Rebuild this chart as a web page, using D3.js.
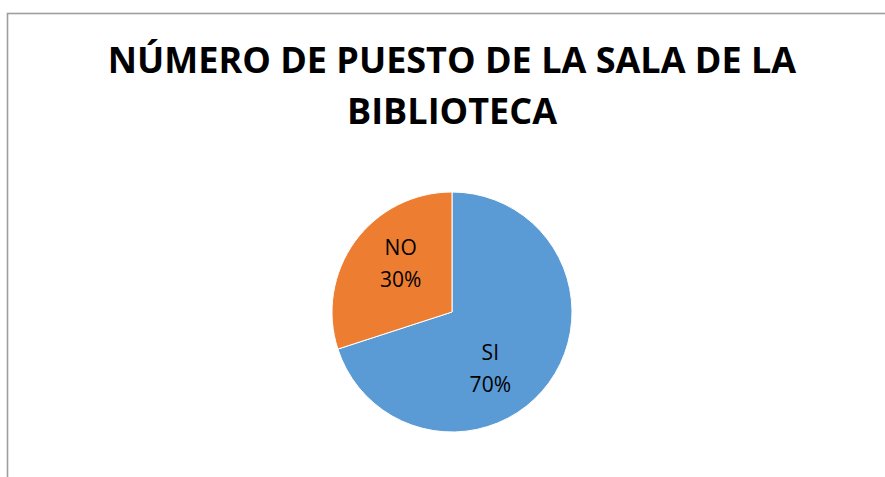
<!DOCTYPE html>
<html>
<head>
<meta charset="utf-8">
<script src="https://cdn.jsdelivr.net/npm/d3@7"></script>
<style>
  html, body { margin: 0; padding: 0; background: #fff; }
  svg { display: block; }
</style>
</head>
<body>
<div id="chart"></div>
<script>
/// Data
var categories = ["SI", "NO"];
var values = [70, 30];
var sliceColors = ["#5B9BD5", "#ED7D31"];
var titleLines = ["NÚMERO DE PUESTO DE LA SALA DE LA", "BIBLIOTECA"];

// Geometry
var width = 885, height = 477;
var cx = 452, cy = 312, radius = 120;
// Excel's "best fit" nudges for the labels
var labelNudge = [[-18, 16], [5, -7]];

var svg = d3.select("#chart").append("svg")
  .attr("width", width)
  .attr("height", height);

svg.append("rect")
  .attr("width", width).attr("height", height)
  .attr("fill", "#fff");

// chart area border (runs off right/bottom edge)
svg.append("rect")
  .attr("x", 7.5).attr("y", 13.5)
  .attr("width", width + 20).attr("height", height + 20)
  .attr("fill", "none")
  .attr("stroke", "#9e9e9e")
  .attr("stroke-width", 1.6);

// title
svg.selectAll(".title")
  .data(titleLines)
  .join("text")
  .attr("class", "title")
  .attr("x", 452)
  .attr("y", function (d, i) { return 73 + i * 51; })
  .attr("text-anchor", "middle")
  .attr("font-family", "'Open Sans', sans-serif")
  .attr("font-weight", "bold")
  .attr("font-size", 36)
  .attr("fill", "#000")
  .text(function (d) { return d; });

var total = d3.sum(values);
var pieData = d3.pie().sort(null)(values);
var arc = d3.arc().innerRadius(0).outerRadius(radius);
var labelArc = d3.arc().innerRadius(radius * 0.58).outerRadius(radius * 0.58);

var g = svg.append("g")
  .attr("transform", "translate(" + cx + "," + cy + ")");

g.selectAll("path")
  .data(pieData)
  .join("path")
  .attr("d", arc)
  .attr("fill", function (d, i) { return sliceColors[i]; })
  .attr("stroke", "#fff")
  .attr("stroke-width", 1);

var labels = g.selectAll(".lbl")
  .data(pieData)
  .join("text")
  .attr("class", "lbl")
  .attr("transform", function (d, i) {
    var c = labelArc.centroid(d);
    return "translate(" + (c[0] + labelNudge[i][0]) + "," + (c[1] + labelNudge[i][1]) + ")";
  })
  .attr("text-anchor", "middle")
  .attr("font-family", "'Open Sans', sans-serif")
  .attr("font-size", 21)
  .attr("fill", "#000");

labels.append("tspan")
  .attr("x", 0).attr("y", -9)
  .text(function (d, i) { return categories[i]; });
labels.append("tspan")
  .attr("x", 0).attr("y", 23)
  .text(function (d) { return Math.round(d.value / total * 100) + "%"; });
</script>
</body>
</html>
